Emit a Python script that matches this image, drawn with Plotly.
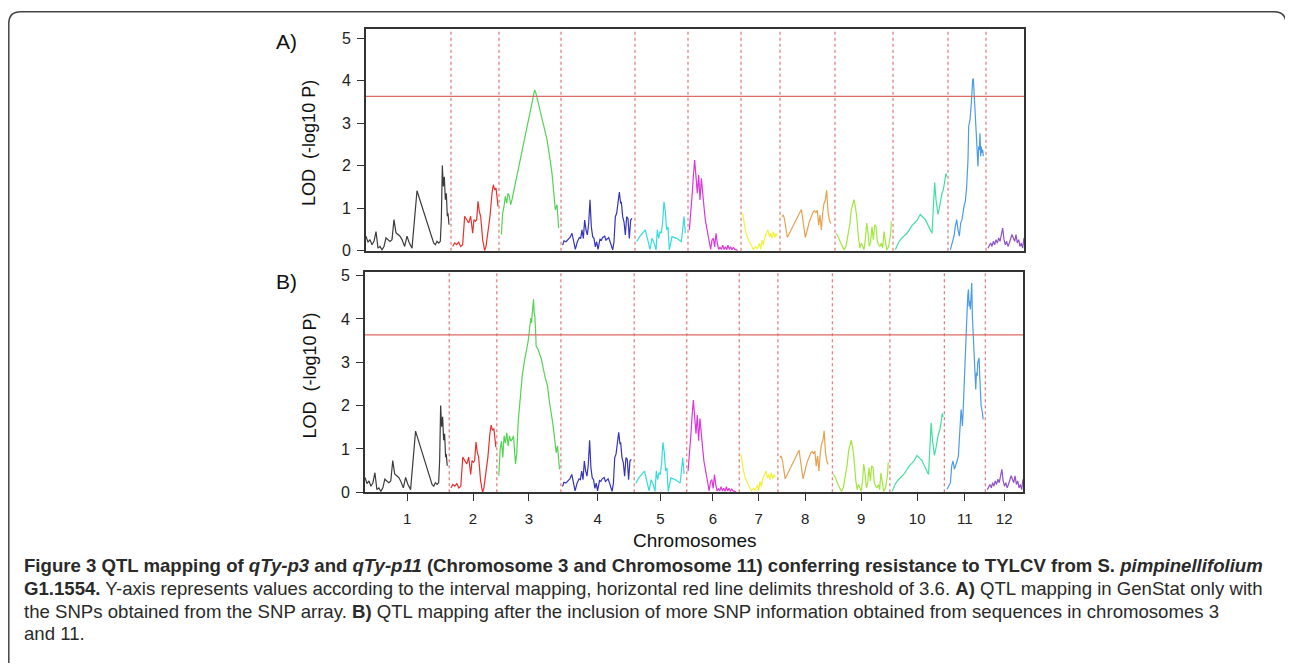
import numpy as np
import plotly.graph_objects as go

# ---------------- data ----------------
chromosomes = ["1", "2", "3", "4", "5", "6", "7", "8", "9", "10", "11", "12"]
chrom_len_a = [127.5, 72, 93, 111, 79.5, 79.5, 58.5, 82.5, 87, 82.5, 57, 57]
chrom_len_b = [127.5, 72, 97, 111, 79.5, 79.5, 58.5, 82.5, 87, 82.5, 62, 57]
chrom_colors = ["#3c3c3c", "#e8302c", "#52d452", "#3434bb", "#36dcdc", "#dd36dd",
                "#f2f23c", "#e8a24e", "#a2e640", "#3ee0a2", "#4a9ce8", "#9152c8"]
threshold = 3.63
y_ticks = [0, 1, 2, 3, 4, 5]

chr1_pos = [0, 3, 6, 9, 12, 15, 18, 21, 24, 27, 30, 33, 36, 39, 42, 45, 48, 51, 54, 58,
            61.5, 65, 69, 76.5, 84, 94, 101.5, 104, 106.5, 109, 111.5, 113, 114.5, 116,
            117.5, 119, 120.5, 122, 123, 124.5]
chr1_lod = [0.34, 0.20, 0.26, 0.14, 0.22, 0.45, 0.06, 0.10, 0.02, 0.10, 0.30, 0.26, 0.22,
            0.26, 0.73, 0.42, 0.38, 0.34, 0.26, 0.10, 0.34, 0.18, 0.06, 1.41, 1.04, 0.55,
            0.18, 0.14, 0.22, 0.18, 0.22, 0.73, 2.00, 1.51, 1.74, 1.20, 1.35, 0.81, 0.88, 0.61]

chr2_pos = [2.5, 5.5, 8.5, 11.5, 14.5, 17.5, 20.5, 23.5, 26.5, 29.5, 32.5, 34.5, 36.5, 38.5,
            40.5, 42.5, 44.5, 47.5, 50.5, 52.5, 55.5, 58.5, 61.5, 63.5, 65.5, 67.5, 69.5, 70.5]
chr2_lod = [0.10, 0.18, 0.14, 0.20, 0.10, 0.14, 0.81, 0.74, 0.65, 0.81, 0.41, 0.73, 0.69, 0.73,
            1.16, 0.92, 0.81, 0.26, 0.00, 0.10, 0.41, 0.81, 1.35, 1.55, 1.43, 1.47, 1.20, 1.04]

chr3_pos = [3.5, 5.5, 7.5, 9.5, 11.5, 13.5, 15.5, 17.5, 19.5, 53.5, 55.5, 64.5, 72, 77, 79.5,
            84.5, 87, 89.5]
chr3_lod = [0.38, 0.88, 1.04, 1.28, 1.12, 1.35, 1.28, 1.08, 1.20, 3.78, 3.70, 3.08, 2.61, 2.10,
            1.82, 0.96, 1.08, 0.53]

chr4_pos = [2.5, 4.5, 7.5, 10.5, 13.5, 16.5, 18.5, 21.5, 24.5, 27.5, 29.5, 31.5, 33.5, 35.5,
            37.5, 39.5, 41.5, 43.5, 45.5, 47.5, 49.5, 51.5, 53.5, 55.5, 58.5, 60.5, 62.5, 65.5,
            67.5, 69.5, 71.5, 74.5, 77.5, 79.5, 81.5, 83.5, 85.5, 87.5, 89.5, 90.5, 92.5, 94.5,
            96.5, 98.5, 100.5, 102.5, 104.5, 106.5]
chr4_lod = [0.13, 0.23, 0.21, 0.27, 0.31, 0.41, 0.25, 0.03, 0.21, 0.31, 0.29, 0.49, 0.29, 0.72,
            0.49, 0.37, 0.64, 1.20, 0.56, 0.33, 0.29, 0.09, 0.21, 0.03, 0.27, 0.25, 0.31, 0.34,
            0.25, 0.27, 0.31, 0.17, 0.02, 0.21, 0.80, 0.88, 1.15, 1.38, 1.11, 1.15, 0.80, 0.68,
            0.37, 0.80, 0.76, 0.29, 0.72, 0.76]

chr5_pos = [2.5, 7, 15.5, 19.5, 22.5, 25.5, 28.5, 31.5, 33.5, 35.5, 37.5, 39.5, 41.5, 43.5,
            45.5, 47.5, 49.5, 51.5, 53.5, 55.5, 62.5, 69.5, 71.5, 73.5, 75.5]
chr5_lod = [0.21, 0.33, 0.49, 0.21, 0.03, 0.29, 0.19, 0.02, 0.49, 0.29, 0.45, 0.41, 0.68, 1.15,
            0.92, 0.49, 0.56, 0.02, 0.17, 0.33, 0.29, 0.21, 0.49, 0.80, 0.42]

chr6_pos = [2, 4, 6, 8, 10, 12, 14, 16, 18, 20, 22, 24, 26, 29, 32, 34, 36, 38, 40, 42, 44, 46,
            48, 50, 52, 54, 56, 58, 60, 62, 64, 66, 68, 70, 72.5, 75]
chr6_lod = [0.49, 0.80, 1.27, 1.74, 2.13, 1.74, 1.35, 1.78, 1.19, 1.70, 1.27, 1.03, 0.72, 0.49,
            0.25, 0.03, 0.25, 0.29, 0.09, 0.41, 0.17, 0.03, 0.08, 0.03, 0.13, 0.03, 0.09, 0.02,
            0.13, 0.03, 0.09, 0.02, 0.08, 0.03, 0.02, 0.00]

chr7_pos = [2.5, 4.5, 6.5, 9.5, 12.5, 15.5, 18.5, 21.5, 24.5, 27.5, 29.5, 31.5, 33.5, 35.5,
            38.5, 40.5, 42.5, 44.5, 46.5, 48.5, 50.5, 52.5, 54.5]
chr7_lod = [0.88, 0.64, 0.49, 0.31, 0.21, 0.09, 0.03, 0.09, 0.05, 0.17, 0.03, 0.25, 0.13, 0.31,
            0.41, 0.49, 0.33, 0.41, 0.29, 0.45, 0.31, 0.41, 0.34]

chr8_pos = [3, 5, 7, 11, 32, 38, 44, 47, 50, 52, 54, 56, 58, 60, 62, 64, 66, 68, 70, 72, 74, 76]
chr8_lod = [0.80, 0.84, 0.72, 0.31, 0.97, 0.31, 0.68, 0.80, 0.92, 0.94, 0.89, 0.95, 0.60, 0.84,
            0.49, 0.88, 1.11, 1.19, 1.42, 0.92, 0.72, 0.64]

chr9_pos = [1.5, 4.5, 7.5, 10.5, 13.5, 16.5, 19.5, 22.5, 24.5, 26.5, 28.5, 30.5, 32.5, 35.5,
            37.5, 39.5, 41.5, 43.5, 45.5, 47.5, 49.5, 51.5, 53.5, 55.5, 57.5, 59.5, 61.5, 63.5,
            65.5, 67.5, 69.5, 71.5, 73.5, 75.5, 77.5, 80.5, 83.5, 84.5]
chr9_lod = [0.41, 0.34, 0.22, 0.10, 0.02, 0.10, 0.34, 0.65, 0.96, 1.12, 1.20, 1.04, 0.81, 0.26,
            0.06, 0.18, 0.10, 0.02, 0.26, 0.65, 0.41, 0.10, 0.22, 0.57, 0.26, 0.61, 0.57, 0.22,
            0.14, 0.10, 0.18, 0.06, 0.45, 0.26, 0.02, 0.10, 0.41, 0.69]

chr10_pos = [3.5, 6, 8.5, 13.5, 21, 28.5, 32.5, 36, 41, 48.5, 58.5, 61, 62.5, 64.5, 67.5, 69.5,
             71.5, 73.5, 75.5, 77.5, 79.5, 80.5]
chr10_lod = [0.02, 0.10, 0.20, 0.30, 0.41, 0.59, 0.65, 0.71, 0.85, 0.73, 0.41, 1.20, 1.60, 1.20,
             0.85, 1.00, 1.20, 1.35, 1.43, 1.59, 1.82, 1.74]

chr11_pos = [3.5, 7, 9, 11, 13, 15, 17, 19, 21, 24, 26, 28, 30, 31, 33, 35, 36, 37, 38, 39, 40,
             42, 44, 45, 46, 47, 48, 49, 50, 51, 52, 53]
chr11_lod = [0.02, 0.22, 0.34, 0.57, 0.73, 0.49, 0.34, 0.65, 0.73, 1.04, 1.16, 1.51, 2.14, 2.92,
             3.08, 3.47, 3.86, 4.01, 4.05, 3.78, 3.39, 2.92, 2.45, 1.98, 2.45, 2.37, 2.76, 2.22,
             2.45, 2.30, 2.37, 2.22]

chr12_pos = [3, 5, 7, 9, 11, 13, 15, 17, 19, 21, 23, 25, 27, 29, 31, 33, 35, 37, 39, 41, 43, 45,
             47, 49, 51, 53, 55, 57]
chr12_lod = [0.06, 0.14, 0.18, 0.10, 0.22, 0.14, 0.26, 0.18, 0.30, 0.22, 0.38, 0.53, 0.26, 0.14,
             0.22, 0.10, 0.18, 0.26, 0.38, 0.30, 0.22, 0.38, 0.18, 0.26, 0.10, 0.18, 0.06, 0.30]

# panel B: chromosomes 3 and 11 with additional SNPs
chr3b_pos = [3.0, 5.1, 7.1, 9.1, 11.1, 13.1, 15.2, 17.2, 19.2, 21.2, 23.2, 25.3, 28.3, 30.3,
             32.3, 35.4, 38.4, 41.4, 44.4, 47.5, 49.5, 51.5, 52.5, 53.5, 54.5, 55.6, 56.6, 57.6,
             58.6, 59.6, 62.6, 67.7, 72.7, 76.8, 79.8, 81.8, 83.8, 85.9, 87.9, 89.9, 91.9, 94.9]
chr3b_lod = [0.38, 0.99, 1.18, 0.80, 1.30, 1.14, 1.37, 1.07, 1.30, 1.18, 1.22, 1.30, 0.65, 0.91,
             1.61, 2.14, 2.68, 2.99, 3.22, 3.49, 3.76, 4.02, 3.91, 4.14, 4.29, 4.45, 4.14, 4.06,
             3.76, 3.37, 3.29, 3.06, 2.68, 2.45, 2.07, 1.91, 1.68, 1.45, 1.11, 0.91, 1.07, 0.53]

chr11b_pos = [4.0, 7.1, 9.1, 11.1, 13.1, 15.2, 17.2, 19.2, 21.2, 23.2, 25.3, 26.3, 27.3, 28.3,
              29.3, 30.3, 31.3, 32.3, 33.3, 34.3, 35.4, 36.4, 37.4, 38.4, 39.4, 40.4, 41.4, 42.4,
              44.4, 46.5, 47.5, 48.5, 49.5, 50.5, 52.5, 53.5, 54.5, 55.6, 57.6, 58.6]
chr11b_lod = [0.07, 0.18, 0.22, 0.61, 0.72, 0.53, 0.61, 0.72, 0.84, 1.45, 1.91, 1.76, 1.53, 1.84,
              2.22, 2.83, 3.37, 3.79, 3.91, 4.14, 4.52, 4.68, 4.29, 4.41, 4.22, 4.52, 4.83, 4.06,
              3.45, 2.83, 2.37, 2.76, 2.68, 2.99, 3.10, 2.68, 2.22, 1.99, 1.84, 1.68]

panel_a = [(chr1_pos, chr1_lod), (chr2_pos, chr2_lod), (chr3_pos, chr3_lod),
           (chr4_pos, chr4_lod), (chr5_pos, chr5_lod), (chr6_pos, chr6_lod),
           (chr7_pos, chr7_lod), (chr8_pos, chr8_lod), (chr9_pos, chr9_lod),
           (chr10_pos, chr10_lod), (chr11_pos, chr11_lod), (chr12_pos, chr12_lod)]
panel_b = list(panel_a)
panel_b[2] = (chr3b_pos, chr3b_lod)
panel_b[10] = (chr11b_pos, chr11b_lod)

caption_lines = [
    "<b>Figure 3 QTL mapping of <i>qTy-p3</i> and <i>qTy-p11</i> (Chromosome 3 and Chromosome 11) "
    "conferring resistance to TYLCV from S. <i>pimpinellifolium</i></b>",
    "<b>G1.1554.</b> Y-axis represents values according to the interval mapping, horizontal red line "
    "delimits threshold of 3.6. <b>A)</b> QTL mapping in GenStat only with",
    "the SNPs obtained from the SNP array. <b>B)</b> QTL mapping after the inclusion of more SNP "
    "information obtained from sequences in chromosomes 3",
    "and 11.",
]

# ---------------- figure ----------------
# The page body has an 8px margin, so the figure sits at (8, 8) in the window;
# a small vertical correction compensates the observed screenshot mapping.
OFF = 8
W, H = 1284, 655
VS, VO = 0.982, 4.0
FONT = "Liberation Sans, Arial, sans-serif"


def fx(px):
    return (px - OFF) / W


def fy(py):
    pyc = (py - VO) / VS
    return 1 - (pyc - OFF) / H


fig = go.Figure()

panels = [(panel_a, chrom_len_a, "x", "y"), (panel_b, chrom_len_b, "x2", "y2")]
for data, lens, xa, ya in panels:
    starts = np.concatenate([[0.0], np.cumsum(lens)[:-1]])
    for s in starts[1:]:
        fig.add_shape(type="line", xref=xa, yref=f"{ya} domain", x0=s, x1=s, y0=0, y1=1,
                      line=dict(color="#e58080", width=1.3, dash="dot"), layer="below")
    fig.add_shape(type="line", xref=f"{xa} domain", yref=ya, x0=0, x1=1,
                  y0=threshold, y1=threshold, line=dict(color="#dc6a66", width=1.3))
    for i, (p, l) in enumerate(data):
        fig.add_trace(go.Scatter(x=starts[i] + np.array(p), y=l, mode="lines",
                                 line=dict(color=chrom_colors[i], width=1.2),
                                 xaxis=xa, yaxis=ya, showlegend=False, hoverinfo="skip"))

starts_b = np.concatenate([[0.0], np.cumsum(chrom_len_b)[:-1]])
mids_b = starts_b + np.array(chrom_len_b) / 2

box = dict(showline=True, linecolor="#333333", linewidth=1.6, mirror=True,
           showgrid=False, zeroline=False)
ybase = dict(tickvals=y_ticks, ticks="outside", ticklen=7, tickwidth=1.2, tickcolor="#333333",
             tickfont=dict(family=FONT, size=16, color="#222222"), ticklabelstandoff=3, **box)

fig.update_layout(
    width=W, height=H, paper_bgcolor="white", plot_bgcolor="white",
    margin=dict(l=0, r=0, t=0, b=0),
    xaxis=dict(domain=[fx(366), fx(1024)], range=[0, sum(chrom_len_a)], anchor="y",
               showticklabels=False, ticks="", **box),
    yaxis=dict(domain=[fy(251), fy(29)], range=[0, 5.21], anchor="x", **ybase),
    xaxis2=dict(domain=[fx(365), fx(1023)], range=[0, sum(chrom_len_b)], anchor="y2",
                tickvals=mids_b, ticktext=chromosomes, ticks="outside", ticklen=7, tickwidth=1.2,
                tickcolor="#333333", ticklabelstandoff=5,
                tickfont=dict(family=FONT, size=15, color="#222222"), **box),
    yaxis2=dict(domain=[fy(493), fy(272)], range=[0, 5.09], anchor="x2", **ybase),
)

ann = []
ann.append(dict(text="A)", x=fx(286), y=fy(41), font=dict(family=FONT, size=21, color="#111")))
ann.append(dict(text="B)", x=fx(286), y=fy(282), font=dict(family=FONT, size=21, color="#111")))
ann.append(dict(text="LOD\u00a0 (-log10 P)", x=fx(309), y=fy(143), textangle=-90,
                font=dict(family=FONT, size=18, color="#111")))
ann.append(dict(text="LOD\u00a0 (-log10 P)", x=fx(310), y=fy(376), textangle=-90,
                font=dict(family=FONT, size=18, color="#111")))
ann.append(dict(text="Chromosomes", x=fx(695), y=fy(541),
                font=dict(family=FONT, size=19, color="#111")))
for k, line in enumerate(caption_lines):
    ann.append(dict(text=line, x=fx(22), y=fy(566 + 23 * k), xanchor="left",
                    font=dict(family=FONT, size=18.6, color="#2a2a2a")))
for a in ann:
    a.setdefault("xanchor", "center")
    a.update(xref="paper", yref="paper", yanchor="middle", showarrow=False)
fig.update_layout(annotations=ann)

# rounded frame around the figure
r = 12
x0, x1, top, bot = 8.8, 1286, 11.5, 720
path = (f"M {fx(x0)},{fy(bot)} L {fx(x0)},{fy(top + r)} Q {fx(x0)},{fy(top)} {fx(x0 + r)},{fy(top)} "
        f"L {fx(x1 - r)},{fy(top)} Q {fx(x1)},{fy(top)} {fx(x1)},{fy(top + r)} L {fx(x1)},{fy(bot)}")
fig.add_shape(type="path", xref="paper", yref="paper", path=path,
              line=dict(color="#444444", width=1.5))

fig.write_html("out.html")
